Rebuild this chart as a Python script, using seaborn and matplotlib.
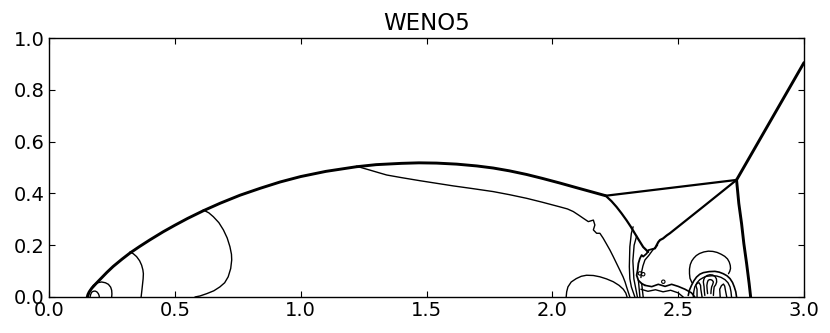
import matplotlib
matplotlib.use("Agg")
import matplotlib.pyplot as plt
import seaborn as sns

# ---------------- data ----------------
title = "WENO5"
xticks = [0.0, 0.5, 1.0, 1.5, 2.0, 2.5, 3.0]
xtick_labels = ["0.0", "0.5", "1.0", "1.5", "2.0", "2.5", "3.0"]
yticks = [0.0, 0.2, 0.4, 0.6, 0.8, 1.0]
ytick_labels = ["0.0", "0.2", "0.4", "0.6", "0.8", "1.0"]

# bow shock (thick)
bow_x = [0.152, 0.155, 0.160, 0.170, 0.185, 0.205, 0.230, 0.255, 0.290, 0.322,
         0.360, 0.400, 0.454, 0.500, 0.550, 0.613, 0.680, 0.759, 0.840, 0.918,
         1.000, 1.100, 1.222, 1.300, 1.400, 1.470, 1.540, 1.620, 1.700, 1.765,
         1.830, 1.898, 1.960, 2.030, 2.100, 2.160, 2.212]
bow_y = [0.000, 0.010, 0.020, 0.034, 0.050, 0.070, 0.095, 0.118, 0.146, 0.170,
         0.195, 0.220, 0.252, 0.277, 0.303, 0.333, 0.362, 0.393, 0.420, 0.444,
         0.465, 0.485, 0.503, 0.511, 0.516, 0.518, 0.517, 0.513, 0.506, 0.498,
         0.487, 0.473, 0.458, 0.440, 0.421, 0.405, 0.391]
# curved reflected shock below the kink
refl_x = [2.212, 2.235, 2.255, 2.275, 2.295, 2.312, 2.328, 2.345, 2.361, 2.381]
refl_y = [0.391, 0.370, 0.348, 0.323, 0.296, 0.271, 0.245, 0.218, 0.193, 0.174]
# kink -> triple point
tp_x = [2.212, 2.732]
tp_y = [0.391, 0.452]
# incident shock
inc_x = [2.732, 3.000]
inc_y = [0.452, 0.905]
# Mach stem
ms_x = [2.732, 2.741, 2.752, 2.761, 2.772, 2.782, 2.788]
ms_y = [0.452, 0.361, 0.283, 0.206, 0.129, 0.052, 0.000]
# reflected shock from triple point
rs2_x = [2.732, 2.600, 2.467, 2.455, 2.440, 2.428, 2.421, 2.408]
rs2_y = [0.452, 0.349, 0.246, 0.238, 0.226, 0.220, 0.212, 0.188]

# rolled-up jet region
jet_x = [2.408, 2.382, 2.375, 2.361, 2.355, 2.348, 2.342, 2.339, 2.335, 2.342, 2.355, 2.368]
jet_y = [0.188, 0.181, 0.168, 0.156, 0.162, 0.149, 0.130, 0.104, 0.084, 0.064, 0.052, 0.045]
jet2_x = [2.418, 2.398, 2.383, 2.368, 2.360, 2.355, 2.352]
jet2_y = [0.200, 0.180, 0.160, 0.143, 0.120, 0.098, 0.075]
wav_x = [2.368, 2.395, 2.421, 2.448, 2.474, 2.500, 2.527, 2.553, 2.566]
wav_y = [0.045, 0.040, 0.049, 0.041, 0.049, 0.041, 0.030, 0.016, 0.000]
wav2_x = [2.352, 2.380, 2.410, 2.440, 2.470, 2.500, 2.520]
wav2_y = [0.030, 0.022, 0.028, 0.020, 0.026, 0.016, 0.000]
sb1_x = [2.342, 2.348]
sb1_y = [0.064, 0.000]
sb2_x = [2.355, 2.361]
sb2_y = [0.052, 0.000]
blob_x = [2.348, 2.361, 2.441]
blob_y = [0.091, 0.088, 0.059]

# contact-like contour under the bow shock
d_x = [1.222, 1.250, 1.275, 1.310, 1.342, 1.400, 1.474, 1.540, 1.606, 1.680, 1.765,
       1.830, 1.898, 1.960, 2.030, 2.060, 2.083, 2.105, 2.123, 2.143, 2.163, 2.169,
       2.163, 2.176, 2.189, 2.202, 2.215, 2.229, 2.242, 2.255, 2.268, 2.281, 2.289,
       2.295, 2.302, 2.308]
d_y = [0.505, 0.497, 0.490, 0.480, 0.471, 0.461, 0.449, 0.439, 0.429, 0.419, 0.407,
       0.395, 0.381, 0.366, 0.348, 0.340, 0.330, 0.316, 0.304, 0.291, 0.297, 0.278,
       0.259, 0.246, 0.246, 0.227, 0.205, 0.181, 0.156, 0.130, 0.104, 0.078, 0.058,
       0.039, 0.018, 0.000]
t2_x = [2.321, 2.314, 2.308, 2.306, 2.308, 2.314, 2.328]
t2_y = [0.271, 0.246, 0.194, 0.117, 0.070, 0.039, 0.000]
t3_x = [2.335, 2.325, 2.320, 2.324, 2.338]
t3_y = [0.235, 0.200, 0.140, 0.070, 0.000]
bub_x = [2.055, 2.057, 2.062, 2.075, 2.095, 2.115, 2.136, 2.163, 2.189, 2.215,
         2.242, 2.265, 2.282, 2.292, 2.297]
bub_y = [0.000, 0.020, 0.039, 0.058, 0.071, 0.080, 0.084, 0.083, 0.078, 0.070,
         0.059, 0.045, 0.030, 0.015, 0.000]

# left contours
l0_x = [0.163, 0.166, 0.170, 0.176, 0.183, 0.190, 0.196, 0.199, 0.200]
l0_y = [0.000, 0.011, 0.019, 0.022, 0.023, 0.020, 0.013, 0.006, 0.000]
l1_x = [0.155, 0.163, 0.176, 0.192, 0.209, 0.224, 0.236, 0.245, 0.249, 0.250, 0.249]
l1_y = [0.000, 0.025, 0.045, 0.055, 0.058, 0.055, 0.049, 0.038, 0.026, 0.012, 0.000]
l2_x = [0.322, 0.335, 0.348, 0.360, 0.368, 0.373, 0.375, 0.374, 0.372, 0.369, 0.366]
l2_y = [0.174, 0.167, 0.156, 0.140, 0.123, 0.105, 0.090, 0.070, 0.052, 0.025, 0.000]
l3_x = [0.613, 0.635, 0.653, 0.675, 0.693, 0.708, 0.719, 0.725, 0.726, 0.722, 0.712,
        0.698, 0.679, 0.655, 0.627, 0.600, 0.580]
l3_y = [0.336, 0.325, 0.310, 0.287, 0.259, 0.228, 0.194, 0.165, 0.143, 0.110, 0.078,
        0.055, 0.039, 0.024, 0.013, 0.004, 0.000]

# mushroom
m1_x = [2.555, 2.547, 2.545, 2.545, 2.548, 2.554, 2.562, 2.572, 2.585, 2.602, 2.620,
        2.638, 2.655, 2.671, 2.685, 2.696, 2.703, 2.707, 2.708, 2.705, 2.700]
m1_y = [0.055, 0.072, 0.090, 0.108, 0.125, 0.139, 0.150, 0.160, 0.168, 0.174, 0.177,
        0.176, 0.172, 0.165, 0.157, 0.147, 0.135, 0.122, 0.110, 0.099, 0.090]
m2_x = [2.540, 2.545, 2.553, 2.562, 2.573, 2.586, 2.600, 2.623, 2.646, 2.663, 2.679,
        2.694, 2.706, 2.716, 2.723, 2.729, 2.732]
m2_y = [0.006, 0.027, 0.045, 0.062, 0.077, 0.088, 0.094, 0.098, 0.099, 0.096, 0.090,
        0.082, 0.071, 0.056, 0.039, 0.020, 0.000]
m3_x = [2.560, 2.562, 2.566, 2.575, 2.586, 2.600, 2.613, 2.633, 2.653, 2.670, 2.686,
        2.698, 2.706, 2.710, 2.712]
m3_y = [0.000, 0.020, 0.039, 0.055, 0.067, 0.075, 0.080, 0.082, 0.081, 0.076, 0.067,
        0.055, 0.039, 0.020, 0.000]
m4_x = [2.606, 2.604, 2.603, 2.600, 2.602, 2.606, 2.615, 2.626, 2.637, 2.646, 2.652,
        2.653, 2.649, 2.643, 2.641, 2.640]
m4_y = [0.006, 0.022, 0.039, 0.058, 0.068, 0.077, 0.083, 0.086, 0.085, 0.080, 0.070,
        0.058, 0.047, 0.039, 0.022, 0.006]
m5_x = [2.617, 2.615, 2.614, 2.616, 2.619, 2.624, 2.630, 2.636, 2.640, 2.637, 2.633,
        2.631, 2.630]
m5_y = [0.013, 0.030, 0.045, 0.056, 0.064, 0.067, 0.067, 0.064, 0.058, 0.048, 0.039,
        0.026, 0.013]
m6_x = [2.575, 2.575, 2.570, 2.576, 2.583, 2.589, 2.590, 2.595]
m6_y = [0.000, 0.030, 0.045, 0.053, 0.055, 0.045, 0.030, 0.000]
m7_x = [2.667, 2.665, 2.672, 2.680, 2.685, 2.687, 2.693]
m7_y = [0.000, 0.030, 0.044, 0.050, 0.042, 0.030, 0.000]

# ---------------- style ----------------
sns.set_style("ticks")
plt.rcParams.update({
    "font.family": ["DejaVu Sans"],
    "text.color": "black", "axes.labelcolor": "black",
    "xtick.direction": "in", "ytick.direction": "in",
    "xtick.top": True, "ytick.right": True,
    "xtick.major.size": 4, "ytick.major.size": 4,
    "xtick.major.width": 0.8, "ytick.major.width": 0.8,
    "xtick.color": "black", "ytick.color": "black",
    "axes.edgecolor": "black", "axes.linewidth": 1.0,
})

fig = plt.figure(figsize=(8.3, 3.33), dpi=100)
ax = fig.add_axes([49 / 830, 1 - 297 / 333, 755 / 830, 259 / 333])

thick = 2.1
medium = 1.6
thin = 1.0

curves = [
    (bow_x, bow_y, thick), (refl_x, refl_y, medium), (tp_x, tp_y, medium),
    (inc_x, inc_y, thick), (ms_x, ms_y, thick), (rs2_x, rs2_y, medium),
    (jet_x, jet_y, 1.3), (jet2_x, jet2_y, thin), (wav_x, wav_y, 1.2),
    (wav2_x, wav2_y, thin), (sb1_x, sb1_y, thin), (sb2_x, sb2_y, thin),
    (d_x, d_y, thin), (t2_x, t2_y, thin), (t3_x, t3_y, thin), (bub_x, bub_y, thin),
    (l0_x, l0_y, thin), (l1_x, l1_y, thin), (l2_x, l2_y, thin), (l3_x, l3_y, thin),
    (m1_x, m1_y, thin), (m2_x, m2_y, 1.2), (m3_x, m3_y, thin), (m4_x, m4_y, thin),
    (m5_x, m5_y, thin), (m6_x, m6_y, thin), (m7_x, m7_y, thin),
]
for cx, cy, lw in curves:
    sns.lineplot(x=cx, y=cy, sort=False, estimator=None, color="black",
                 lw=lw, ax=ax, legend=False)

sns.scatterplot(x=blob_x, y=blob_y, s=6, marker="o", facecolor="none",
                edgecolor="black", linewidth=0.8, ax=ax, legend=False)

ax.set_xlim(0, 3)
ax.set_ylim(0, 1)
ax.set_xticks(xticks)
ax.set_xticklabels(xtick_labels, fontsize=14, color="black")
ax.set_yticks(yticks)
ax.set_yticklabels(ytick_labels, fontsize=14, color="black")
ax.tick_params(axis="x", pad=3)
ax.tick_params(axis="y", pad=3)
ax.set_xlabel("")
ax.set_ylabel("")
ax.set_title(title, fontsize=16.5, pad=6, color="black")
for s in ax.spines.values():
    s.set_visible(True)

fig.savefig("out.png", dpi=100)
